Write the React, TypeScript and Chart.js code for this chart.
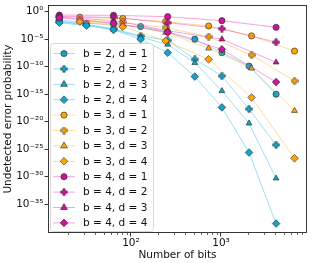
import React, { useEffect, useRef } from 'react';
import { Chart, registerables } from 'chart.js';

Chart.register(...registerables);

// ---- data ----
const bitsB2 = [16, 32, 64, 128, 256, 512, 1024, 2048, 4096];
const bitsB3 = [27, 81, 243, 729, 2187, 6561];
const bitsB4 = [16, 64, 256, 1024, 4096];

const b2d1 = [3.5e-2, 8e-3, 4.5e-3, 2e-3, 2e-4, 1e-5, 3.5e-8, 1.3e-10, 1e-15];
const b2d2 = [1.8e-2, 5e-3, 8e-4, 4e-5, 6e-6, 2.2e-9, 2e-12, 2e-18, 6e-25];
const b2d3 = [1.6e-2, 4e-3, 6e-4, 2.5e-5, 1.1e-6, 5e-10, 4e-15, 5e-21, 5e-31];
const b2d4 = [1e-2, 3e-3, 5e-4, 1e-5, 3.5e-8, 1.6e-12, 4e-18, 2.5e-26, 3e-39];

const b3d1 = [1e-1, 6e-2, 1.6e-2, 2.5e-3, 4e-5, 7e-8];
const b3d2 = [3e-2, 1.2e-2, 1.3e-3, 2.8e-5, 1.3e-8, 2.5e-13];
const b3d3 = [2e-2, 5e-3, 1.6e-4, 2.2e-7, 5e-11, 1e-18];
const b3d4 = [1.6e-2, 1.8e-3, 5e-6, 2.2e-9, 2.5e-16, 2.2e-27];

const b4d1 = [2.4e-1, 2.2e-1, 1.25e-1, 2.3e-2, 1.45e-3];
const b4d2 = [1.4e-1, 9e-2, 1e-2, 8e-4, 2.8e-6];
const b4d3 = [1e-1, 2.5e-2, 3.5e-4, 1e-5, 6.3e-10];
const b4d4 = [8e-2, 8e-3, 1.8e-4, 1.45e-7, 1.6e-13];

const seriesLabels = [
  'b = 2, d = 1', 'b = 2, d = 2', 'b = 2, d = 3', 'b = 2, d = 4',
  'b = 3, d = 1', 'b = 3, d = 2', 'b = 3, d = 3', 'b = 3, d = 4',
  'b = 4, d = 1', 'b = 4, d = 2', 'b = 4, d = 3', 'b = 4, d = 4',
];

const yTickExponents = [0, -5, -10, -15, -20, -25, -30, -35];
const xMajorTicks = [100, 1000];
const xMinorTicks = [20, 30, 40, 50, 60, 70, 80, 90, 200, 300, 400, 500, 600, 700, 800, 900, 2000, 3000, 4000, 5000, 6000, 7000, 8000, 9000];

const xTitle = 'Number of bits';
const yTitle = 'Undetected error probability';

// ---- styles ----
const FONT = 'DejaVu Sans';
const markerColors = { 2: '#13a3cd', 3: '#ffa500', 4: '#d1139c' };
const lineColors = { 2: 'rgba(40,185,228,0.45)', 3: 'rgba(255,170,20,0.42)', 4: 'rgba(235,50,180,0.45)' };
const shapes = ['circle', 'plus', 'triangle', 'rectRot'];

const SUP: Record<string, string> = { '0': '⁰', '1': '¹', '2': '²', '3': '³', '4': '⁴', '5': '⁵', '6': '⁶', '7': '⁷', '8': '⁸', '9': '⁹', '-': '⁻' };
const pow10Label = (v: number) => '10' + String(Math.round(Math.log10(v))).split('').map((c) => SUP[c] || c).join('');

function makePlus(fill: string): HTMLCanvasElement {
  const c = document.createElement('canvas');
  c.width = 8; c.height = 8;
  const g = c.getContext('2d')!;
  const cx = 4, cy = 4, a = 3.3, h = 1.2;
  g.beginPath();
  g.moveTo(cx - a, cy - h); g.lineTo(cx - h, cy - h); g.lineTo(cx - h, cy - a);
  g.lineTo(cx + h, cy - a); g.lineTo(cx + h, cy - h); g.lineTo(cx + a, cy - h);
  g.lineTo(cx + a, cy + h); g.lineTo(cx + h, cy + h); g.lineTo(cx + h, cy + a);
  g.lineTo(cx - h, cy + a); g.lineTo(cx - h, cy + h); g.lineTo(cx - a, cy + h);
  g.closePath();
  g.fillStyle = fill; g.fill();
  g.lineWidth = 0.5; g.strokeStyle = '#222'; g.stroke();
  return c;
}

function drawMarker(ctx: CanvasRenderingContext2D, style: any, x: number, y: number, r: number, fill: string) {
  ctx.save();
  if (style instanceof HTMLCanvasElement) {
    ctx.drawImage(style, x - style.width / 2, y - style.height / 2);
    ctx.restore();
    return;
  }
  ctx.beginPath();
  if (style === 'circle') {
    ctx.arc(x, y, r, 0, Math.PI * 2);
  } else if (style === 'triangle') {
    ctx.moveTo(x, y - r * 1.15);
    ctx.lineTo(x + r * 1.0, y + r * 0.6);
    ctx.lineTo(x - r * 1.0, y + r * 0.6);
    ctx.closePath();
  } else {
    ctx.moveTo(x, y - r); ctx.lineTo(x + r, y); ctx.lineTo(x, y + r); ctx.lineTo(x - r, y); ctx.closePath();
  }
  ctx.fillStyle = fill; ctx.fill();
  ctx.lineWidth = 0.6; ctx.strokeStyle = '#222'; ctx.stroke();
  ctx.restore();
}

export default function App() {
  const ref = useRef<HTMLCanvasElement>(null);

  useEffect(() => {
    if (!ref.current) return;
    Chart.defaults.font.family = FONT;
    const plusImgs: Record<number, HTMLCanvasElement> = { 2: makePlus(markerColors[2]), 3: makePlus(markerColors[3]), 4: makePlus(markerColors[4]) };

    const groups: [number, number[], number[][]][] = [
      [2, bitsB2, [b2d1, b2d2, b2d3, b2d4]],
      [3, bitsB3, [b3d1, b3d2, b3d3, b3d4]],
      [4, bitsB4, [b4d1, b4d2, b4d3, b4d4]],
    ];
    const datasets: any[] = [];
    groups.forEach(([b, xs, ys]) => {
      ys.forEach((vals, di) => {
        const idx = datasets.length;
        const shape = shapes[di];
        const style = shape === 'plus' ? plusImgs[b] : shape;
        const radius = shape === 'circle' ? 3.1 : shape === 'triangle' ? 3.4 : 3.8;
        datasets.push({
          label: seriesLabels[idx],
          data: xs.map((x, i) => ({ x, y: vals[i] })),
          borderColor: (lineColors as any)[b],
          borderWidth: 1,
          backgroundColor: (markerColors as any)[b],
          pointBackgroundColor: (markerColors as any)[b],
          pointBorderColor: '#222',
          pointBorderWidth: 0.6,
          pointStyle: style,
          pointRadius: radius,
          pointHoverRadius: radius,
          showLine: true,
          tension: 0,
          spanGaps: true,
          order: 100 - idx,
          _fill: (markerColors as any)[b],
          _style: style,
          _radius: radius,
        });
      });
    });

    const framePlugin = {
      id: 'frameAndMinor',
      afterDraw(chart: any) {
        const { ctx, chartArea: a, scales } = chart;
        ctx.save();
        ctx.strokeStyle = '#000';
        ctx.lineWidth = 0.6;
        xMinorTicks.forEach((v) => {
          const px = Math.round(scales.x.getPixelForValue(v)) + 0.5;
          if (px < a.left || px > a.right) return;
          ctx.beginPath(); ctx.moveTo(px, a.bottom); ctx.lineTo(px, a.bottom + 2); ctx.stroke();
        });
        ctx.strokeStyle = '#222';
        ctx.lineWidth = 0.9;
        ctx.strokeRect(Math.round(a.left) + 0.5, Math.round(a.top) + 0.5, Math.round(a.right - a.left) - 1, Math.round(a.bottom - a.top) - 1);
        ctx.restore();
      },
    };

    const legendPlugin = {
      id: 'innerLegend',
      afterDatasetsDraw(chart: any) {
        const { ctx } = chart;
        const bx = 50.5, by = 43.5, bw = 103, bh = 188, rr = 3;
        ctx.save();
        ctx.beginPath();
        ctx.moveTo(bx + rr, by);
        ctx.arcTo(bx + bw, by, bx + bw, by + bh, rr);
        ctx.arcTo(bx + bw, by + bh, bx, by + bh, rr);
        ctx.arcTo(bx, by + bh, bx, by, rr);
        ctx.arcTo(bx, by, bx + bw, by, rr);
        ctx.closePath();
        ctx.fillStyle = 'rgba(255,255,255,0.85)';
        ctx.fill();
        ctx.strokeStyle = '#d6d6d6';
        ctx.lineWidth = 1;
        ctx.stroke();
        ctx.font = `10.5px "${FONT}"`;
        ctx.textBaseline = 'middle';
        ctx.textAlign = 'left';
        chart.data.datasets.forEach((ds: any, i: number) => {
          const y = 53.5 + i * 15.4;
          ctx.strokeStyle = ds.borderColor;
          ctx.lineWidth = 1;
          ctx.beginPath(); ctx.moveTo(53, y); ctx.lineTo(75, y); ctx.stroke();
          drawMarker(ctx, ds._style, 64, y, ds._radius, ds._fill);
          ctx.fillStyle = '#111';
          ctx.fillText(ds.label, 83, y + 0.5);
        });
        ctx.restore();
      },
    };

    const chart = new Chart(ref.current, {
      type: 'line',
      data: { datasets },
      options: {
        animation: false,
        responsive: true,
        maintainAspectRatio: false,
        layout: { padding: { top: 5, right: 5, left: 0, bottom: 0 } },
        plugins: { legend: { display: false }, tooltip: { enabled: false } },
        events: [],
        scales: {
          x: {
            type: 'logarithmic',
            position: 'bottom',
            min: 11.97,
            max: 9030,
            afterFit: (s: any) => { s.height = 30; s.paddingLeft = 0; s.paddingRight = 0; },
            afterBuildTicks: (s: any) => { s.ticks = xMajorTicks.map((v) => ({ value: v })); },
            ticks: {
              callback: (v: any) => pow10Label(Number(v)),
              font: { size: 10.5, family: FONT },
              color: '#111',
              padding: 0,
              maxRotation: 0,
              autoSkip: false,
            },
            grid: { drawOnChartArea: false, drawTicks: true, tickLength: 3.5, tickColor: '#000', tickWidth: 0.8 },
            border: { display: false },
            title: { display: true, text: xTitle, font: { size: 10.5, family: FONT }, color: '#111', padding: { top: 0, bottom: 1.5 } },
          },
          y: {
            type: 'logarithmic',
            position: 'left',
            min: Math.pow(10, -40.24),
            max: Math.pow(10, 1.22),
            afterFit: (s: any) => { s.width = 48; s.paddingTop = 0; s.paddingBottom = 0; },
            afterBuildTicks: (s: any) => { s.ticks = yTickExponents.map((e) => ({ value: Math.pow(10, e) })); },
            ticks: {
              callback: (v: any) => pow10Label(Number(v)),
              font: { size: 10.5, family: FONT },
              color: '#111',
              padding: 1,
              autoSkip: false,
            },
            grid: { drawOnChartArea: false, drawTicks: true, tickLength: 3.5, tickColor: '#000', tickWidth: 0.8 },
            border: { display: false },
            title: { display: true, text: yTitle, font: { size: 10.5, family: FONT }, color: '#111', padding: { top: 2, bottom: 0 } },
          },
        },
      },
      plugins: [legendPlugin, framePlugin],
    } as any);

    return () => chart.destroy();
  }, []);

  return (
    <div style={{ position: 'fixed', left: 0, top: 0, width: 312, height: 263, background: '#fff' }}>
      <canvas ref={ref} />
    </div>
  );
}
